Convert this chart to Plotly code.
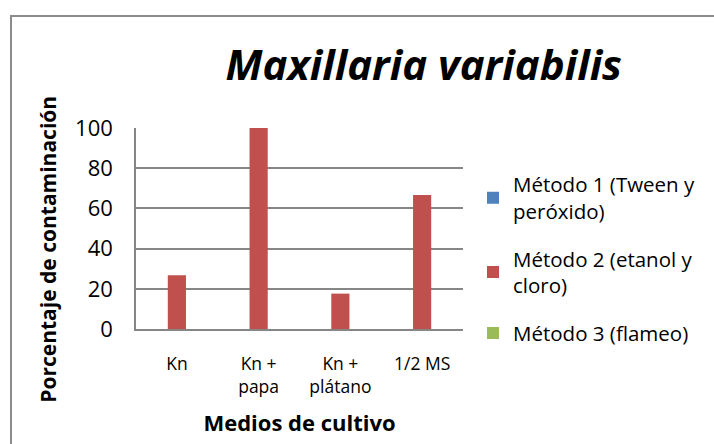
import plotly.graph_objects as go

categorias = ["Kn", "Kn +<br>papa", "Kn +<br>plátano", "1/2 MS"]
metodo1 = [0, 0, 0, 0]
metodo2 = [26.7, 100, 17.6, 66.7]
metodo3 = [0, 0, 0, 0]
nombres = ["Método 1 (Tween y<br>peróxido)", "Método 2 (etanol y<br>cloro)", "Método 3 (flameo)"]
colores = ["#4F81BD", "#C0504D", "#9BBB59"]
y_ticks = [0, 20, 40, 60, 80, 100]

FONT = "Open Sans, Carlito, Calibri, sans-serif"

fig = go.Figure()
for i, (vals, nm, col) in enumerate(zip([metodo1, metodo2, metodo3], nombres, colores)):
    fig.add_trace(go.Bar(x=categorias, y=vals, name=nm, marker_color=col,
                         marker_line_width=0, legendgroup=str(i)))

fig.update_layout(
    width=714, height=444,
    margin=dict(l=136, r=251, t=128, b=113),
    paper_bgcolor="white", plot_bgcolor="white",
    font=dict(family=FONT, color="black"),
    barmode="group", bargap=0.333, bargroupgap=0,
    title=dict(text="<b><i>Maxillaria variabilis</i></b>", font=dict(size=42, family=FONT),
               x=0.88, xref="paper", xanchor="center", y=0.853, yanchor="middle"),
    legend=dict(x=(473 - 136) / 327, y=0.818, xanchor="left", yanchor="top",
                font=dict(size=20.5, family=FONT), tracegroupgap=18,
                itemwidth=30, bgcolor="rgba(0,0,0,0)"),
    showlegend=True,
)
fig.update_yaxes(range=[0, 100], tickvals=y_ticks, showgrid=True, gridcolor="#868686", gridwidth=1.5,
                 showline=True, linecolor="#868686", linewidth=1.5, ticks="", zeroline=False,
                 tickfont=dict(size=22), ticklabelstandoff=17)
fig.update_xaxes(showline=True, linecolor="#868686", linewidth=1.5, ticks="",
                 tickfont=dict(size=17.5), ticklabelstandoff=18,
                 title=dict(text="<b>Medios de cultivo</b>", font=dict(size=22), standoff=19))

fig.add_annotation(text="<b>Porcentaje de contaminación</b>", textangle=-90,
                   xref="paper", yref="paper", x=(48 - 136) / 327, y=(331 - 251) / 203,
                   xanchor="center", yanchor="middle", showarrow=False,
                   font=dict(size=21, family=FONT))

fig.add_shape(type="rect", xref="paper", yref="paper",
              x0=(11 - 136) / 327, x1=3.0, y0=-1.5, y1=(331 - 15) / 203,
              line=dict(color="#8C8C8C", width=2), fillcolor="rgba(0,0,0,0)", layer="below")

fig.write_html("out.html", config={"displayModeBar": False},
               post_script="document.body.style.margin='0';document.body.style.overflow='hidden';")
